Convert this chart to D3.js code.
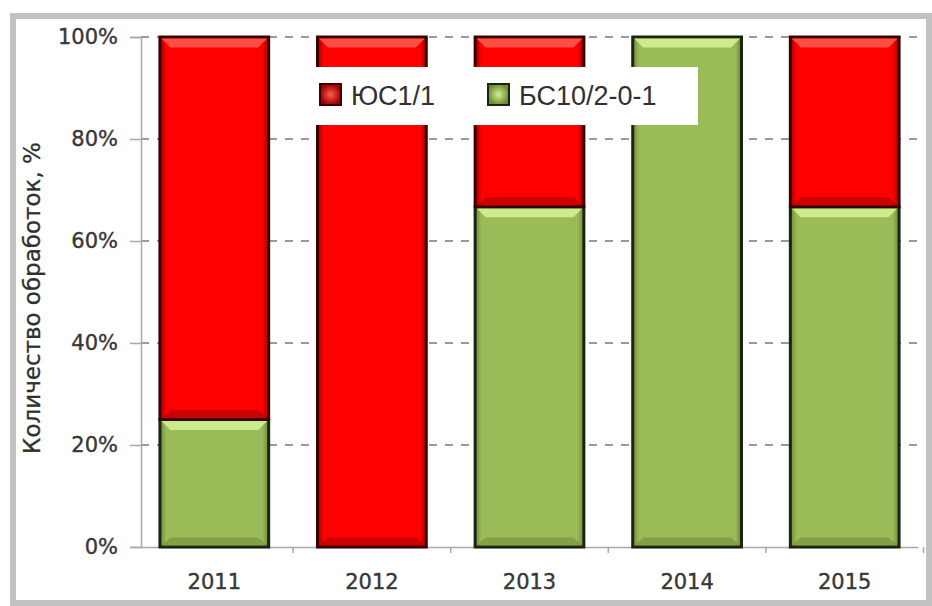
<!DOCTYPE html>
<html>
<head>
<meta charset="utf-8">
<script src="https://cdn.jsdelivr.net/npm/d3@7"></script>
<style>
  body { margin: 0; background: #fff; }
  svg { display: block; }
</style>
</head>
<body>
<svg width="932" height="606"></svg>
<script>
// data
const years = ["2011", "2012", "2013", "2014", "2015"];
const yus = [75, 100, 33.3, 0, 33.3];   // ЮС1/1
const bs = [25, 0, 66.7, 100, 66.7];    // БС10/2-0-1
const seriesNames = ["БС10/2-0-1", "ЮС1/1"];
const yTicks = [0, 20, 40, 60, 80, 100];

const svg = d3.select("svg");

// frame
svg.append("rect")
  .attr("x", 13).attr("y", 16)
  .attr("width", 916).attr("height", 587)
  .attr("fill", "#fff")
  .attr("stroke", "#c2c2c2")
  .attr("stroke-width", 6);

const plotL = 141, plotR = 920, plotT = 37, plotB = 547;

const x = d3.scaleBand().domain(years).range([plotL, plotR - 2]).paddingInner(0.31).paddingOuter(0.12);
const y = d3.scaleLinear().domain([0, 100]).range([plotB, plotT]);

const rows = years.map((yr, i) => ({ year: yr, "БС10/2-0-1": bs[i], "ЮС1/1": yus[i] }));
const stacked = d3.stack().keys(seriesNames)(rows);

const colors = {
  "ЮС1/1": { base: "#ff0000", light: "#ff5a4a", dark: "#a00000", edge: "#3a0000" },
  "БС10/2-0-1": { base: "#9bbb59", light: "#d2f290", dark: "#6f8a38", edge: "#1a2410" }
};

// gradients
const defs = svg.append("defs");
Object.entries(colors).forEach(([k, c], i) => {
  const g = defs.append("linearGradient").attr("id", "hg" + i)
    .attr("x1", 0).attr("x2", 1).attr("y1", 0).attr("y2", 0);
  g.append("stop").attr("offset", 0).attr("stop-color", c.dark);
  g.append("stop").attr("offset", 0.06).attr("stop-color", c.base);
  g.append("stop").attr("offset", 0.94).attr("stop-color", c.base);
  g.append("stop").attr("offset", 1).attr("stop-color", c.dark);
  c.grad = "url(#hg" + i + ")";
  const r = defs.append("radialGradient").attr("id", "rg" + i);
  r.append("stop").attr("offset", 0).attr("stop-color", c.light);
  r.append("stop").attr("offset", 1).attr("stop-color", c.dark);
  c.rgrad = "url(#rg" + i + ")";
});

// gridlines
svg.append("g")
  .selectAll("line")
  .data(yTicks.filter(d => d > 0))
  .join("line")
  .attr("x1", plotL).attr("x2", plotR)
  .attr("y1", d => y(d)).attr("y2", d => y(d))
  .attr("stroke", "#9a9a9a")
  .attr("stroke-width", 2)
  .attr("stroke-dasharray", "8,8");

// y axis
const yAxis = svg.append("g")
  .attr("transform", `translate(${plotL},0)`)
  .call(d3.axisLeft(y).tickValues(yTicks).tickSize(11).tickPadding(12).tickFormat(d => d + "%"));
yAxis.select(".domain").attr("stroke", "#a8a8a8").attr("stroke-width", 1.5);
yAxis.selectAll(".tick line").attr("stroke", "#a8a8a8").attr("stroke-width", 1.5);
yAxis.selectAll("text")
  .attr("font-family", "DejaVu Sans")
  .attr("font-size", 21)
  .attr("fill", "#383838")
  .attr("stroke", "#383838")
  .attr("stroke-width", 0.4);

// x axis
const xAxis = svg.append("g")
  .attr("transform", `translate(0,${plotB})`)
  .call(d3.axisBottom(x).tickSize(0).tickPadding(27));
xAxis.select(".domain").attr("stroke", "#a8a8a8").attr("stroke-width", 1.5);
xAxis.selectAll("text")
  .attr("font-family", "DejaVu Sans")
  .attr("font-size", 21)
  .attr("fill", "#383838")
  .attr("stroke", "#383838")
  .attr("stroke-width", 0.4);
xAxis.selectAll(".sep")
  .data(years)
  .join("line")
  .attr("class", "sep")
  .attr("x1", d => x(d) + x.bandwidth() + x.step() * x.paddingInner() / 2)
  .attr("x2", d => x(d) + x.bandwidth() + x.step() * x.paddingInner() / 2)
  .attr("y1", 0).attr("y2", 6)
  .attr("stroke", "#a8a8a8").attr("stroke-width", 1.5);

// bars
const bw = x.bandwidth();
stacked.forEach(layer => {
  const c = colors[layer.key];
  const segs = layer.filter(d => d[1] - d[0] > 0);
  const g = svg.append("g");
  const seg = g.selectAll("g").data(segs).join("g");
  seg.append("rect")
    .attr("x", d => x(d.data.year))
    .attr("y", d => y(d[1]))
    .attr("width", bw)
    .attr("height", d => y(d[0]) - y(d[1]))
    .attr("fill", c.grad)
    .attr("stroke", c.edge)
    .attr("stroke-width", 3);
  // top bevel
  seg.append("polygon")
    .attr("points", d => {
      const x0 = x(d.data.year) + 1.5, x1 = x0 + bw - 3, t = y(d[1]) + 1.5;
      return [[x0, t], [x1, t], [x1 - 9, t + 9], [x0 + 9, t + 9]].join(" ");
    })
    .attr("fill", c.light)
    .attr("opacity", 0.9);
  // bottom shade
  seg.append("polygon")
    .attr("points", d => {
      const x0 = x(d.data.year) + 1.5, x1 = x0 + bw - 3, b = y(d[0]) - 1.5;
      return [[x0, b], [x1, b], [x1 - 9, b - 8], [x0 + 9, b - 8]].join(" ");
    })
    .attr("fill", c.dark)
    .attr("opacity", 0.55);
});

// legend
const legend = svg.append("g");
legend.append("rect")
  .attr("x", 300).attr("y", 67)
  .attr("width", 398).attr("height", 58)
  .attr("fill", "#fff");
const legItems = [
  { name: "ЮС1/1", x: 320 },
  { name: "БС10/2-0-1", x: 488 }
];
const li = legend.selectAll(".li").data(legItems).join("g").attr("class", "li");
li.append("rect")
  .attr("x", d => d.x).attr("y", 84)
  .attr("width", 21).attr("height", 21)
  .attr("fill", d => colors[d.name].rgrad)
  .attr("stroke", d => colors[d.name].edge)
  .attr("stroke-width", 2);
li.append("text")
  .attr("x", d => d.x + 31)
  .attr("y", 105)
  .attr("font-family", "Liberation Sans")
  .attr("font-size", 27)
  .attr("fill", "#303030")
  .text(d => d.name);

// y title
svg.append("text")
  .attr("transform", `translate(40,298) rotate(-90)`)
  .attr("text-anchor", "middle")
  .attr("font-family", "DejaVu Sans")
  .attr("font-size", 23)
  .attr("fill", "#303030")
  .attr("stroke", "#303030")
  .attr("stroke-width", 0.3)
  .text("Количество обработок, %");
</script>
</body>
</html>
